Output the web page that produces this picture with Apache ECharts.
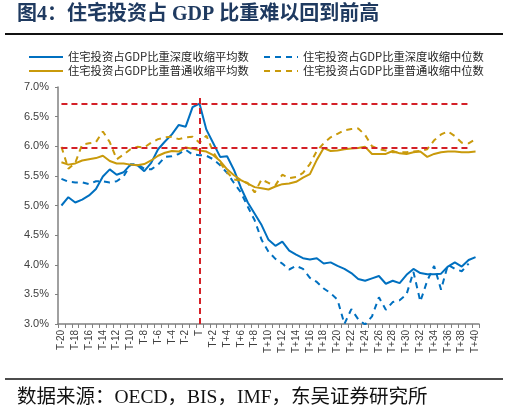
<!DOCTYPE html>
<html><head><meta charset="utf-8">
<script src="https://cdn.jsdelivr.net/npm/echarts@6/dist/echarts.min.js"></script>
<style>html,body{margin:0;padding:0;background:#fff}#c{width:509px;height:413px}</style>
</head><body><div id="c"></div>
<script>
const categories = ['T-20','T-19','T-18','T-17','T-16','T-15','T-14','T-13','T-12','T-11','T-10','T-9','T-8','T-7','T-6','T-5','T-4','T-3','T-2','T-1','T',
  'T+1','T+2','T+3','T+4','T+5','T+6','T+7','T+8','T+9','T+10','T+11','T+12','T+13','T+14','T+15','T+16','T+17','T+18','T+19','T+20',
  'T+21','T+22','T+23','T+24','T+25','T+26','T+27','T+28','T+29','T+30','T+31','T+32','T+33','T+34','T+35','T+36','T+37','T+38','T+39','T+40'];

const seriesNames = ['住宅投资占GDP比重深度收缩平均数','住宅投资占GDP比重深度收缩中位数','住宅投资占GDP比重普通收缩平均数','住宅投资占GDP比重普通收缩中位数'];

const deepAvg = [5.00,5.14,5.05,5.10,5.17,5.28,5.49,5.61,5.52,5.56,
  5.69,5.68,5.58,5.72,5.95,6.08,6.20,6.36,6.33,6.66,
  6.72,6.28,6.05,5.82,5.83,5.60,5.30,5.05,4.86,4.67,
  4.42,4.32,4.39,4.24,4.17,4.11,4.09,4.11,4.02,4.04,
  3.98,3.93,3.86,3.76,3.73,3.77,3.81,3.68,3.73,3.69,
  3.83,3.93,3.86,3.84,3.84,3.85,3.97,4.04,3.97,4.08,4.13];

const deepMed = [5.45,5.40,5.39,5.39,5.36,5.41,5.41,5.39,5.41,5.49,
  5.69,5.70,5.62,5.61,5.69,5.82,5.83,5.87,5.94,5.86,
  5.85,5.84,5.78,5.68,5.55,5.38,5.22,4.98,4.75,4.42,
  4.22,4.10,4.02,3.92,3.98,3.93,3.78,3.71,3.60,3.52,
  3.41,3.00,3.25,3.08,2.99,3.13,3.45,3.24,3.37,3.40,
  3.50,3.88,3.38,3.73,3.98,3.58,4.00,3.93,3.89,4.02,null];

const normAvg = [5.73,5.69,5.71,5.76,5.78,5.80,5.84,5.75,5.71,5.71,
  5.69,5.68,5.70,5.76,5.84,5.89,5.92,5.91,5.98,5.96,
  5.93,5.91,5.85,5.75,5.61,5.51,5.43,5.37,5.31,5.29,
  5.27,5.32,5.36,5.37,5.40,5.47,5.53,5.77,5.97,5.92,
  5.93,5.95,5.96,5.97,5.99,5.87,5.87,5.87,5.92,5.88,
  5.87,5.90,5.91,5.82,5.87,5.90,5.91,5.91,5.90,5.90,5.91];

const normMed = [5.99,5.62,5.72,6.03,6.05,6.07,6.25,6.07,5.78,5.86,
  5.95,5.99,5.98,6.06,6.12,6.15,6.16,6.12,6.15,6.16,
  6.06,6.18,5.90,5.72,5.56,5.44,5.42,5.38,5.22,5.44,
  5.38,5.34,5.52,5.46,5.48,5.55,5.70,5.92,6.05,6.15,
  6.21,6.27,6.29,6.30,6.19,6.00,5.95,5.93,5.90,5.90,
  5.90,5.91,5.92,5.95,6.10,6.20,6.25,6.17,6.06,6.05,6.12];

const yMin = 3.0, yMax = 7.0, yInterval = 0.5;
const refLevels = [6.72, 5.98];
const refStart = 'T-20', refEnd = 'T+39';
const refCategory = 'T';
const refVTop = 6.85;

const titleText = '图4：住宅投资占 GDP 比重难以回到前高';
const sourceText = '数据来源：OECD，BIS，IMF，东吴证券研究所';

const BLUE = '#0070C0', GOLD = '#C99A0B', RED = '#D42027';
const CJK = '"Noto Sans CJK SC"';

const chart = echarts.init(document.getElementById('c'), null, {renderer: 'canvas'});

const refData = refLevels.map(v => [{coord: [refStart, v]}, {coord: [refEnd, v]}]);
refData.push([{coord: [refCategory, yMin]}, {coord: [refCategory, refVTop]}]);

function lineSeries(name, data, color, dashed) {
  return {
    name, type: 'line', data, symbol: 'none', showSymbol: false, z: 3,
    lineStyle: {color, width: 2, type: dashed ? [6, 5] : 'solid'},
    itemStyle: {color}
  };
}

const legendPos = [[28, 50], [263, 50], [28, 64], [263, 64]];
const legends = seriesNames.map((n, i) => ({
  data: [n], left: legendPos[i][0], top: legendPos[i][1], padding: 0,
  itemWidth: 34, itemHeight: 14, selectedMode: false,
  itemStyle: {opacity: 0},
  textStyle: {fontSize: 11.3, color: '#262626', fontFamily: CJK, lineHeight: 14}
}));

chart.setOption({
  animation: false,
  backgroundColor: '#fff',
  grid: {left: 58, right: 30, top: 87, bottom: 89, containLabel: false},
  legend: legends,
  xAxis: {
    type: 'category', data: categories, boundaryGap: true,
    axisLine: {lineStyle: {color: '#808080', width: 1.5}},
    axisTick: {show: true, interval: 0, length: 4, lineStyle: {color: '#808080'}},
    axisLabel: {interval: 1, rotate: 90, fontSize: 10, color: '#404040', margin: 6, fontFamily: 'Liberation Sans'},
    splitLine: {show: false}
  },
  yAxis: {
    type: 'value', min: yMin, max: yMax, interval: yInterval,
    axisLine: {show: true, lineStyle: {color: '#808080', width: 1.5}},
    axisTick: {show: true, length: 3, lineStyle: {color: '#808080'}},
    axisLabel: {formatter: v => v.toFixed(1) + '%', fontSize: 11, color: '#404040', margin: 9, fontFamily: 'Liberation Sans'},
    splitLine: {show: false}
  },
  series: [
    {
      name: 'ref', type: 'line', data: [], z: 1, silent: true,
      markLine: {
        symbol: 'none', silent: true, animation: false,
        label: {show: false},
        lineStyle: {color: RED, width: 2, type: [6, 4]},
        emphasis: {disabled: true},
        data: refData
      }
    },
    lineSeries(seriesNames[0], deepAvg, BLUE, false),
    lineSeries(seriesNames[1], deepMed, BLUE, true),
    lineSeries(seriesNames[2], normAvg, GOLD, false),
    lineSeries(seriesNames[3], normMed, GOLD, true)
  ],
  graphic: [
    {type: 'text', left: 17, top: 5, style: {text: titleText, fontSize: 20, fontWeight: 'bold', fill: '#1F3A60', fontFamily: '"Liberation Serif", ' + CJK}},
    {type: 'line', shape: {x1: 5, y1: 34, x2: 503, y2: 34}, style: {stroke: '#111', lineWidth: 2}},
    {type: 'line', shape: {x1: 5, y1: 379, x2: 503, y2: 379}, style: {stroke: '#111', lineWidth: 1.5}},
    {type: 'text', left: 17, top: 388, style: {text: sourceText, fontSize: 19.5, fill: '#111', fontFamily: '"Liberation Serif", ' + CJK}}
  ]
});
</script></body></html>
